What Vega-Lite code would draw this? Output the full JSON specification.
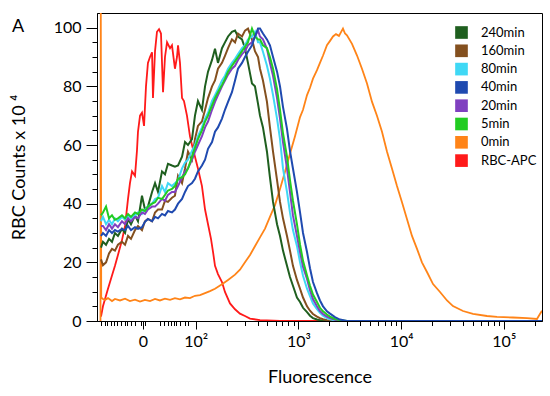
{
"$schema":"https://vega.github.io/schema/vega-lite/v6.json",
"width":445,"height":308,
"autosize":{"type":"none"},
"padding":{"left":97,"top":13,"right":8,"bottom":75},
"background":"white",
"title":{"text":"A","anchor":"start","frame":"group","dx":-85,"dy":37,"offset":0,"baseline":"alphabetic","fontSize":18,"fontWeight":"normal","font":"Lato","color":"black"},
"config":{"view":{"stroke":"black","strokeWidth":1},"font":"Lato"},
"datasets":{"curves":[
{"s":"RBC-APC","x":1.078,"y":1.5},{"s":"RBC-APC","x":1.097,"y":5},{"s":"RBC-APC","x":1.146,"y":11},{"s":"RBC-APC","x":1.185,"y":15.5},{"s":"RBC-APC","x":1.214,"y":18.8},{"s":"RBC-APC","x":1.243,"y":22.5},{"s":"RBC-APC","x":1.282,"y":27.5},{"s":"RBC-APC","x":1.312,"y":32.4},{"s":"RBC-APC","x":1.341,"y":41.6},{"s":"RBC-APC","x":1.36,"y":47},{"s":"RBC-APC","x":1.38,"y":51},{"s":"RBC-APC","x":1.409,"y":49.5},{"s":"RBC-APC","x":1.428,"y":58},{"s":"RBC-APC","x":1.438,"y":64.5},{"s":"RBC-APC","x":1.458,"y":70},{"s":"RBC-APC","x":1.477,"y":71},{"s":"RBC-APC","x":1.497,"y":66.5},{"s":"RBC-APC","x":1.516,"y":80},{"s":"RBC-APC","x":1.535,"y":88},{"s":"RBC-APC","x":1.555,"y":90},{"s":"RBC-APC","x":1.575,"y":91.6},{"s":"RBC-APC","x":1.584,"y":76},{"s":"RBC-APC","x":1.604,"y":92},{"s":"RBC-APC","x":1.623,"y":98.6},{"s":"RBC-APC","x":1.643,"y":99.5},{"s":"RBC-APC","x":1.662,"y":98},{"s":"RBC-APC","x":1.682,"y":78},{"s":"RBC-APC","x":1.701,"y":90},{"s":"RBC-APC","x":1.721,"y":95},{"s":"RBC-APC","x":1.75,"y":93},{"s":"RBC-APC","x":1.769,"y":94},{"s":"RBC-APC","x":1.798,"y":86},{"s":"RBC-APC","x":1.818,"y":90},{"s":"RBC-APC","x":1.828,"y":94},{"s":"RBC-APC","x":1.847,"y":88},{"s":"RBC-APC","x":1.867,"y":76},{"s":"RBC-APC","x":1.886,"y":75},{"s":"RBC-APC","x":1.915,"y":70},{"s":"RBC-APC","x":1.944,"y":63},{"s":"RBC-APC","x":1.964,"y":60},{"s":"RBC-APC","x":1.993,"y":56},{"s":"RBC-APC","x":2.022,"y":52},{"s":"RBC-APC","x":2.061,"y":46},{"s":"RBC-APC","x":2.091,"y":38},{"s":"RBC-APC","x":2.12,"y":33},{"s":"RBC-APC","x":2.149,"y":28},{"s":"RBC-APC","x":2.169,"y":23.5},{"s":"RBC-APC","x":2.188,"y":18.8},{"s":"RBC-APC","x":2.217,"y":16},{"s":"RBC-APC","x":2.256,"y":13.3},{"s":"RBC-APC","x":2.285,"y":9.9},{"s":"RBC-APC","x":2.334,"y":6},{"s":"RBC-APC","x":2.383,"y":4},{"s":"RBC-APC","x":2.431,"y":2.5},{"s":"RBC-APC","x":2.48,"y":1.7},{"s":"RBC-APC","x":2.529,"y":0.8},{"s":"RBC-APC","x":2.626,"y":0.3},{"s":"RBC-APC","x":2.821,"y":0},{"s":"RBC-APC","x":5.372,"y":0},
{"s":"0min","x":1.073,"y":0},{"s":"0min","x":1.076,"y":105},{"s":"0min","x":1.08,"y":8},{"s":"0min","x":1.097,"y":7.5},{"s":"0min","x":1.117,"y":7.2},{"s":"0min","x":1.146,"y":7.8},{"s":"0min","x":1.185,"y":6.8},{"s":"0min","x":1.214,"y":7.5},{"s":"0min","x":1.263,"y":7},{"s":"0min","x":1.312,"y":7.6},{"s":"0min","x":1.36,"y":6.8},{"s":"0min","x":1.409,"y":7.3},{"s":"0min","x":1.458,"y":6.6},{"s":"0min","x":1.506,"y":7.2},{"s":"0min","x":1.555,"y":6.8},{"s":"0min","x":1.604,"y":7.5},{"s":"0min","x":1.652,"y":7},{"s":"0min","x":1.701,"y":7.6},{"s":"0min","x":1.75,"y":7.2},{"s":"0min","x":1.798,"y":7.8},{"s":"0min","x":1.847,"y":7.4},{"s":"0min","x":1.896,"y":8},{"s":"0min","x":1.944,"y":7.8},{"s":"0min","x":1.993,"y":8.6},{"s":"0min","x":2.042,"y":8.8},{"s":"0min","x":2.091,"y":9.5},{"s":"0min","x":2.139,"y":10.2},{"s":"0min","x":2.188,"y":11},{"s":"0min","x":2.256,"y":12.5},{"s":"0min","x":2.315,"y":14},{"s":"0min","x":2.383,"y":15.8},{"s":"0min","x":2.431,"y":17.5},{"s":"0min","x":2.48,"y":20},{"s":"0min","x":2.529,"y":22.5},{"s":"0min","x":2.577,"y":25.5},{"s":"0min","x":2.626,"y":28.5},{"s":"0min","x":2.675,"y":31.5},{"s":"0min","x":2.723,"y":35.5},{"s":"0min","x":2.772,"y":39.5},{"s":"0min","x":2.821,"y":45},{"s":"0min","x":2.869,"y":50.8},{"s":"0min","x":2.918,"y":57},{"s":"0min","x":2.967,"y":63},{"s":"0min","x":3.016,"y":69.5},{"s":"0min","x":3.045,"y":72},{"s":"0min","x":3.084,"y":77},{"s":"0min","x":3.113,"y":79.5},{"s":"0min","x":3.142,"y":82.6},{"s":"0min","x":3.181,"y":85.5},{"s":"0min","x":3.21,"y":88},{"s":"0min","x":3.24,"y":90.5},{"s":"0min","x":3.278,"y":94},{"s":"0min","x":3.308,"y":95.5},{"s":"0min","x":3.337,"y":97},{"s":"0min","x":3.366,"y":97.8},{"s":"0min","x":3.395,"y":97.2},{"s":"0min","x":3.415,"y":98.5},{"s":"0min","x":3.434,"y":99.7},{"s":"0min","x":3.454,"y":98},{"s":"0min","x":3.473,"y":97.4},{"s":"0min","x":3.522,"y":94.5},{"s":"0min","x":3.571,"y":90.5},{"s":"0min","x":3.619,"y":86},{"s":"0min","x":3.668,"y":81},{"s":"0min","x":3.717,"y":74.7},{"s":"0min","x":3.765,"y":70},{"s":"0min","x":3.814,"y":64.5},{"s":"0min","x":3.863,"y":57.7},{"s":"0min","x":3.911,"y":52},{"s":"0min","x":3.96,"y":46},{"s":"0min","x":4.008,"y":40.6},{"s":"0min","x":4.057,"y":34.8},{"s":"0min","x":4.106,"y":29},{"s":"0min","x":4.155,"y":24.6},{"s":"0min","x":4.203,"y":20},{"s":"0min","x":4.252,"y":16.7},{"s":"0min","x":4.311,"y":12.6},{"s":"0min","x":4.379,"y":9.9},{"s":"0min","x":4.447,"y":7},{"s":"0min","x":4.505,"y":5.1},{"s":"0min","x":4.603,"y":3.4},{"s":"0min","x":4.7,"y":2.4},{"s":"0min","x":4.836,"y":1.7},{"s":"0min","x":4.934,"y":1.4},{"s":"0min","x":5.089,"y":1.2},{"s":"0min","x":5.226,"y":1},{"s":"0min","x":5.323,"y":0.7},{"s":"0min","x":5.352,"y":2.4},{"s":"0min","x":5.372,"y":3.5},
{"s":"240min","x":1.078,"y":25},{"s":"240min","x":1.097,"y":27},{"s":"240min","x":1.127,"y":26},{"s":"240min","x":1.156,"y":28},{"s":"240min","x":1.185,"y":27},{"s":"240min","x":1.214,"y":30},{"s":"240min","x":1.243,"y":29},{"s":"240min","x":1.282,"y":31.4},{"s":"240min","x":1.312,"y":30},{"s":"240min","x":1.341,"y":34.8},{"s":"240min","x":1.37,"y":33},{"s":"240min","x":1.409,"y":36},{"s":"240min","x":1.438,"y":34},{"s":"240min","x":1.477,"y":42.7},{"s":"240min","x":1.506,"y":38},{"s":"240min","x":1.535,"y":39},{"s":"240min","x":1.575,"y":44},{"s":"240min","x":1.604,"y":47},{"s":"240min","x":1.633,"y":44},{"s":"240min","x":1.672,"y":51},{"s":"240min","x":1.701,"y":50},{"s":"240min","x":1.73,"y":53.6},{"s":"240min","x":1.769,"y":53},{"s":"240min","x":1.798,"y":52.6},{"s":"240min","x":1.828,"y":53},{"s":"240min","x":1.867,"y":56},{"s":"240min","x":1.896,"y":61},{"s":"240min","x":1.925,"y":60},{"s":"240min","x":1.964,"y":62},{"s":"240min","x":1.993,"y":70},{"s":"240min","x":2.022,"y":75},{"s":"240min","x":2.061,"y":72},{"s":"240min","x":2.091,"y":80},{"s":"240min","x":2.12,"y":85},{"s":"240min","x":2.159,"y":89},{"s":"240min","x":2.188,"y":92.8},{"s":"240min","x":2.217,"y":88},{"s":"240min","x":2.256,"y":93},{"s":"240min","x":2.285,"y":95},{"s":"240min","x":2.315,"y":97},{"s":"240min","x":2.353,"y":98.6},{"s":"240min","x":2.383,"y":99},{"s":"240min","x":2.412,"y":97},{"s":"240min","x":2.451,"y":96},{"s":"240min","x":2.48,"y":93},{"s":"240min","x":2.509,"y":88},{"s":"240min","x":2.548,"y":81},{"s":"240min","x":2.577,"y":80},{"s":"240min","x":2.607,"y":74},{"s":"240min","x":2.626,"y":70},{"s":"240min","x":2.655,"y":66},{"s":"240min","x":2.694,"y":57.7},{"s":"240min","x":2.723,"y":49},{"s":"240min","x":2.753,"y":40.6},{"s":"240min","x":2.792,"y":33},{"s":"240min","x":2.821,"y":29},{"s":"240min","x":2.85,"y":24},{"s":"240min","x":2.889,"y":18.8},{"s":"240min","x":2.918,"y":15},{"s":"240min","x":2.947,"y":12},{"s":"240min","x":2.986,"y":8},{"s":"240min","x":3.016,"y":6.5},{"s":"240min","x":3.045,"y":4.5},{"s":"240min","x":3.084,"y":3},{"s":"240min","x":3.113,"y":1.8},{"s":"240min","x":3.142,"y":1},{"s":"240min","x":3.181,"y":0.5},{"s":"240min","x":3.21,"y":0.3},{"s":"240min","x":3.24,"y":0.1},{"s":"240min","x":3.278,"y":0},{"s":"240min","x":5.372,"y":0},
{"s":"160min","x":1.078,"y":21},{"s":"160min","x":1.097,"y":19},{"s":"160min","x":1.127,"y":20},{"s":"160min","x":1.156,"y":23},{"s":"160min","x":1.185,"y":24.6},{"s":"160min","x":1.214,"y":24},{"s":"160min","x":1.243,"y":26},{"s":"160min","x":1.282,"y":27},{"s":"160min","x":1.312,"y":26},{"s":"160min","x":1.341,"y":29},{"s":"160min","x":1.37,"y":28},{"s":"160min","x":1.409,"y":31},{"s":"160min","x":1.438,"y":32.4},{"s":"160min","x":1.477,"y":31},{"s":"160min","x":1.506,"y":34},{"s":"160min","x":1.535,"y":34.8},{"s":"160min","x":1.575,"y":34},{"s":"160min","x":1.604,"y":37},{"s":"160min","x":1.633,"y":38},{"s":"160min","x":1.672,"y":38},{"s":"160min","x":1.701,"y":41},{"s":"160min","x":1.73,"y":40.6},{"s":"160min","x":1.769,"y":42},{"s":"160min","x":1.798,"y":42.7},{"s":"160min","x":1.828,"y":49.5},{"s":"160min","x":1.867,"y":47},{"s":"160min","x":1.896,"y":52},{"s":"160min","x":1.925,"y":57.7},{"s":"160min","x":1.964,"y":55},{"s":"160min","x":1.993,"y":62},{"s":"160min","x":2.022,"y":66.5},{"s":"160min","x":2.061,"y":68},{"s":"160min","x":2.091,"y":72},{"s":"160min","x":2.12,"y":76},{"s":"160min","x":2.159,"y":80},{"s":"160min","x":2.188,"y":82},{"s":"160min","x":2.217,"y":86},{"s":"160min","x":2.256,"y":88},{"s":"160min","x":2.285,"y":90.4},{"s":"160min","x":2.315,"y":93},{"s":"160min","x":2.353,"y":96},{"s":"160min","x":2.383,"y":95},{"s":"160min","x":2.412,"y":98},{"s":"160min","x":2.451,"y":97},{"s":"160min","x":2.48,"y":99},{"s":"160min","x":2.509,"y":99.7},{"s":"160min","x":2.548,"y":96},{"s":"160min","x":2.577,"y":92},{"s":"160min","x":2.607,"y":90},{"s":"160min","x":2.626,"y":86},{"s":"160min","x":2.655,"y":82},{"s":"160min","x":2.694,"y":74.7},{"s":"160min","x":2.723,"y":66},{"s":"160min","x":2.753,"y":57.7},{"s":"160min","x":2.792,"y":48},{"s":"160min","x":2.821,"y":40.6},{"s":"160min","x":2.85,"y":35},{"s":"160min","x":2.889,"y":29},{"s":"160min","x":2.918,"y":24},{"s":"160min","x":2.947,"y":18.8},{"s":"160min","x":2.986,"y":14},{"s":"160min","x":3.016,"y":11},{"s":"160min","x":3.045,"y":8},{"s":"160min","x":3.084,"y":5},{"s":"160min","x":3.113,"y":3.5},{"s":"160min","x":3.142,"y":2.4},{"s":"160min","x":3.181,"y":1.5},{"s":"160min","x":3.21,"y":1},{"s":"160min","x":3.24,"y":0.6},{"s":"160min","x":3.278,"y":0.3},{"s":"160min","x":3.308,"y":0.1},{"s":"160min","x":3.356,"y":0},{"s":"160min","x":5.372,"y":0},
{"s":"80min","x":1.078,"y":34},{"s":"80min","x":1.097,"y":35.5},{"s":"80min","x":1.127,"y":33},{"s":"80min","x":1.156,"y":34.5},{"s":"80min","x":1.185,"y":33},{"s":"80min","x":1.214,"y":35},{"s":"80min","x":1.243,"y":34},{"s":"80min","x":1.282,"y":35.5},{"s":"80min","x":1.312,"y":34.5},{"s":"80min","x":1.341,"y":36},{"s":"80min","x":1.37,"y":35},{"s":"80min","x":1.409,"y":36},{"s":"80min","x":1.438,"y":37},{"s":"80min","x":1.477,"y":36.5},{"s":"80min","x":1.506,"y":38},{"s":"80min","x":1.535,"y":39},{"s":"80min","x":1.575,"y":40},{"s":"80min","x":1.604,"y":41.6},{"s":"80min","x":1.633,"y":42},{"s":"80min","x":1.672,"y":46},{"s":"80min","x":1.701,"y":44},{"s":"80min","x":1.73,"y":47},{"s":"80min","x":1.769,"y":46},{"s":"80min","x":1.798,"y":47},{"s":"80min","x":1.828,"y":48},{"s":"80min","x":1.867,"y":52},{"s":"80min","x":1.896,"y":54},{"s":"80min","x":1.925,"y":55},{"s":"80min","x":1.964,"y":58},{"s":"80min","x":1.993,"y":60},{"s":"80min","x":2.022,"y":63},{"s":"80min","x":2.061,"y":66},{"s":"80min","x":2.091,"y":69},{"s":"80min","x":2.12,"y":71},{"s":"80min","x":2.159,"y":75},{"s":"80min","x":2.188,"y":77},{"s":"80min","x":2.217,"y":79},{"s":"80min","x":2.256,"y":82},{"s":"80min","x":2.285,"y":83.6},{"s":"80min","x":2.315,"y":86},{"s":"80min","x":2.353,"y":88},{"s":"80min","x":2.383,"y":89.4},{"s":"80min","x":2.412,"y":91},{"s":"80min","x":2.451,"y":93},{"s":"80min","x":2.48,"y":94},{"s":"80min","x":2.509,"y":96},{"s":"80min","x":2.548,"y":97},{"s":"80min","x":2.577,"y":98.6},{"s":"80min","x":2.607,"y":95},{"s":"80min","x":2.626,"y":95},{"s":"80min","x":2.655,"y":91.8},{"s":"80min","x":2.694,"y":87},{"s":"80min","x":2.723,"y":82.6},{"s":"80min","x":2.753,"y":77},{"s":"80min","x":2.792,"y":69},{"s":"80min","x":2.821,"y":62},{"s":"80min","x":2.85,"y":52},{"s":"80min","x":2.889,"y":44},{"s":"80min","x":2.918,"y":37},{"s":"80min","x":2.947,"y":31},{"s":"80min","x":2.986,"y":25.6},{"s":"80min","x":3.016,"y":20},{"s":"80min","x":3.045,"y":15.4},{"s":"80min","x":3.084,"y":11},{"s":"80min","x":3.113,"y":8.5},{"s":"80min","x":3.142,"y":6},{"s":"80min","x":3.181,"y":4},{"s":"80min","x":3.21,"y":2.8},{"s":"80min","x":3.24,"y":1.8},{"s":"80min","x":3.278,"y":1},{"s":"80min","x":3.308,"y":0.6},{"s":"80min","x":3.356,"y":0.2},{"s":"80min","x":3.405,"y":0},{"s":"80min","x":5.372,"y":0},
{"s":"20min","x":1.078,"y":32.4},{"s":"20min","x":1.097,"y":32.4},{"s":"20min","x":1.127,"y":31},{"s":"20min","x":1.156,"y":33},{"s":"20min","x":1.185,"y":31.5},{"s":"20min","x":1.214,"y":33},{"s":"20min","x":1.243,"y":32},{"s":"20min","x":1.282,"y":34},{"s":"20min","x":1.312,"y":33},{"s":"20min","x":1.341,"y":35},{"s":"20min","x":1.37,"y":34},{"s":"20min","x":1.409,"y":35.5},{"s":"20min","x":1.438,"y":35},{"s":"20min","x":1.477,"y":37},{"s":"20min","x":1.506,"y":36.5},{"s":"20min","x":1.535,"y":38},{"s":"20min","x":1.575,"y":39},{"s":"20min","x":1.604,"y":39},{"s":"20min","x":1.633,"y":40},{"s":"20min","x":1.672,"y":41.6},{"s":"20min","x":1.701,"y":41},{"s":"20min","x":1.73,"y":43},{"s":"20min","x":1.769,"y":44},{"s":"20min","x":1.798,"y":44},{"s":"20min","x":1.828,"y":46},{"s":"20min","x":1.867,"y":49},{"s":"20min","x":1.896,"y":51},{"s":"20min","x":1.925,"y":52},{"s":"20min","x":1.964,"y":55},{"s":"20min","x":1.993,"y":57.7},{"s":"20min","x":2.022,"y":60},{"s":"20min","x":2.061,"y":63},{"s":"20min","x":2.091,"y":66},{"s":"20min","x":2.12,"y":68},{"s":"20min","x":2.159,"y":72},{"s":"20min","x":2.188,"y":74.7},{"s":"20min","x":2.217,"y":77},{"s":"20min","x":2.256,"y":80},{"s":"20min","x":2.285,"y":82},{"s":"20min","x":2.315,"y":84},{"s":"20min","x":2.353,"y":86},{"s":"20min","x":2.383,"y":87},{"s":"20min","x":2.412,"y":89},{"s":"20min","x":2.451,"y":91},{"s":"20min","x":2.48,"y":92},{"s":"20min","x":2.509,"y":94},{"s":"20min","x":2.548,"y":95},{"s":"20min","x":2.577,"y":97},{"s":"20min","x":2.607,"y":99},{"s":"20min","x":2.626,"y":97},{"s":"20min","x":2.655,"y":96},{"s":"20min","x":2.694,"y":92.8},{"s":"20min","x":2.723,"y":88},{"s":"20min","x":2.753,"y":83.6},{"s":"20min","x":2.792,"y":76},{"s":"20min","x":2.821,"y":69},{"s":"20min","x":2.85,"y":61},{"s":"20min","x":2.889,"y":52},{"s":"20min","x":2.918,"y":44},{"s":"20min","x":2.947,"y":36},{"s":"20min","x":2.986,"y":29},{"s":"20min","x":3.016,"y":23.5},{"s":"20min","x":3.045,"y":18.5},{"s":"20min","x":3.084,"y":14.3},{"s":"20min","x":3.113,"y":10.5},{"s":"20min","x":3.142,"y":7.5},{"s":"20min","x":3.181,"y":5},{"s":"20min","x":3.21,"y":3.4},{"s":"20min","x":3.24,"y":2.4},{"s":"20min","x":3.278,"y":1.5},{"s":"20min","x":3.308,"y":1},{"s":"20min","x":3.356,"y":0.4},{"s":"20min","x":3.405,"y":0.1},{"s":"20min","x":3.473,"y":0},{"s":"20min","x":5.372,"y":0},
{"s":"5min","x":1.078,"y":36},{"s":"5min","x":1.097,"y":37},{"s":"5min","x":1.127,"y":39},{"s":"5min","x":1.156,"y":35},{"s":"5min","x":1.185,"y":36},{"s":"5min","x":1.214,"y":34.5},{"s":"5min","x":1.243,"y":35},{"s":"5min","x":1.282,"y":36},{"s":"5min","x":1.312,"y":35},{"s":"5min","x":1.341,"y":36.5},{"s":"5min","x":1.37,"y":35.5},{"s":"5min","x":1.409,"y":37},{"s":"5min","x":1.438,"y":36.5},{"s":"5min","x":1.477,"y":38},{"s":"5min","x":1.506,"y":37.5},{"s":"5min","x":1.535,"y":39},{"s":"5min","x":1.575,"y":40},{"s":"5min","x":1.604,"y":40.5},{"s":"5min","x":1.633,"y":42},{"s":"5min","x":1.672,"y":41.6},{"s":"5min","x":1.701,"y":43},{"s":"5min","x":1.73,"y":44.5},{"s":"5min","x":1.769,"y":45},{"s":"5min","x":1.798,"y":46},{"s":"5min","x":1.828,"y":48.5},{"s":"5min","x":1.867,"y":49},{"s":"5min","x":1.896,"y":50},{"s":"5min","x":1.925,"y":52},{"s":"5min","x":1.964,"y":56},{"s":"5min","x":1.993,"y":59},{"s":"5min","x":2.022,"y":62},{"s":"5min","x":2.061,"y":65},{"s":"5min","x":2.091,"y":68},{"s":"5min","x":2.12,"y":70},{"s":"5min","x":2.159,"y":73.5},{"s":"5min","x":2.188,"y":76},{"s":"5min","x":2.217,"y":78},{"s":"5min","x":2.256,"y":80.5},{"s":"5min","x":2.285,"y":82.5},{"s":"5min","x":2.315,"y":85},{"s":"5min","x":2.353,"y":87},{"s":"5min","x":2.383,"y":88.5},{"s":"5min","x":2.412,"y":90},{"s":"5min","x":2.451,"y":92},{"s":"5min","x":2.48,"y":93.5},{"s":"5min","x":2.509,"y":95},{"s":"5min","x":2.548,"y":99.7},{"s":"5min","x":2.577,"y":97},{"s":"5min","x":2.607,"y":96},{"s":"5min","x":2.626,"y":96},{"s":"5min","x":2.655,"y":94},{"s":"5min","x":2.694,"y":93},{"s":"5min","x":2.723,"y":90},{"s":"5min","x":2.753,"y":86},{"s":"5min","x":2.792,"y":79},{"s":"5min","x":2.821,"y":72},{"s":"5min","x":2.85,"y":64},{"s":"5min","x":2.889,"y":56},{"s":"5min","x":2.918,"y":48},{"s":"5min","x":2.947,"y":41},{"s":"5min","x":2.986,"y":33},{"s":"5min","x":3.016,"y":26},{"s":"5min","x":3.045,"y":20.5},{"s":"5min","x":3.084,"y":15.5},{"s":"5min","x":3.113,"y":12},{"s":"5min","x":3.142,"y":9},{"s":"5min","x":3.181,"y":6.5},{"s":"5min","x":3.21,"y":4.5},{"s":"5min","x":3.24,"y":3.3},{"s":"5min","x":3.278,"y":2.2},{"s":"5min","x":3.308,"y":1.5},{"s":"5min","x":3.356,"y":0.7},{"s":"5min","x":3.405,"y":0.3},{"s":"5min","x":3.473,"y":0},{"s":"5min","x":5.372,"y":0},
{"s":"40min","x":1.078,"y":29},{"s":"40min","x":1.097,"y":30},{"s":"40min","x":1.127,"y":29},{"s":"40min","x":1.156,"y":31},{"s":"40min","x":1.185,"y":30},{"s":"40min","x":1.214,"y":31},{"s":"40min","x":1.243,"y":30.5},{"s":"40min","x":1.282,"y":31.4},{"s":"40min","x":1.312,"y":31},{"s":"40min","x":1.341,"y":32.4},{"s":"40min","x":1.37,"y":31},{"s":"40min","x":1.409,"y":32},{"s":"40min","x":1.438,"y":31.4},{"s":"40min","x":1.477,"y":32},{"s":"40min","x":1.506,"y":33.8},{"s":"40min","x":1.535,"y":34.8},{"s":"40min","x":1.575,"y":34},{"s":"40min","x":1.604,"y":35.5},{"s":"40min","x":1.633,"y":35},{"s":"40min","x":1.672,"y":36.5},{"s":"40min","x":1.701,"y":36},{"s":"40min","x":1.73,"y":37.5},{"s":"40min","x":1.769,"y":37},{"s":"40min","x":1.798,"y":38},{"s":"40min","x":1.828,"y":40},{"s":"40min","x":1.867,"y":41.6},{"s":"40min","x":1.896,"y":44},{"s":"40min","x":1.925,"y":46},{"s":"40min","x":1.964,"y":47},{"s":"40min","x":1.993,"y":48.5},{"s":"40min","x":2.022,"y":51},{"s":"40min","x":2.061,"y":53},{"s":"40min","x":2.091,"y":55},{"s":"40min","x":2.12,"y":58.7},{"s":"40min","x":2.159,"y":61},{"s":"40min","x":2.188,"y":64.5},{"s":"40min","x":2.217,"y":66},{"s":"40min","x":2.256,"y":69},{"s":"40min","x":2.285,"y":72},{"s":"40min","x":2.315,"y":74.7},{"s":"40min","x":2.353,"y":78},{"s":"40min","x":2.383,"y":82},{"s":"40min","x":2.412,"y":86},{"s":"40min","x":2.451,"y":88},{"s":"40min","x":2.48,"y":90},{"s":"40min","x":2.509,"y":91.8},{"s":"40min","x":2.548,"y":94},{"s":"40min","x":2.577,"y":97},{"s":"40min","x":2.607,"y":99.7},{"s":"40min","x":2.626,"y":99.7},{"s":"40min","x":2.655,"y":98},{"s":"40min","x":2.694,"y":96},{"s":"40min","x":2.723,"y":94},{"s":"40min","x":2.753,"y":90},{"s":"40min","x":2.792,"y":85},{"s":"40min","x":2.821,"y":80},{"s":"40min","x":2.85,"y":73},{"s":"40min","x":2.889,"y":65.5},{"s":"40min","x":2.918,"y":58},{"s":"40min","x":2.947,"y":52},{"s":"40min","x":2.986,"y":44},{"s":"40min","x":3.016,"y":37},{"s":"40min","x":3.045,"y":30},{"s":"40min","x":3.084,"y":23.5},{"s":"40min","x":3.113,"y":18},{"s":"40min","x":3.142,"y":13.3},{"s":"40min","x":3.181,"y":9.5},{"s":"40min","x":3.21,"y":7},{"s":"40min","x":3.24,"y":5},{"s":"40min","x":3.278,"y":3.3},{"s":"40min","x":3.308,"y":2.5},{"s":"40min","x":3.356,"y":1.3},{"s":"40min","x":3.405,"y":0.5},{"s":"40min","x":3.473,"y":0},{"s":"40min","x":5.372,"y":0}
]},
"data":{"name":"curves"},
"encoding":{
 "color":{"field":"s","type":"nominal",
  "scale":{"domain":["240min","160min","80min","40min","20min","5min","0min","RBC-APC"],
           "range":["#1f5f1f","#84501f","#3fd8f5","#1f4ab0","#8040c0","#22cc22","#ff8418","#ff1a1a"]},
  "legend":{"orient":"none","legendX":358,"legendY":13,"title":null,"symbolType":"square","symbolSize":160,"labelFontSize":13,"labelFont":"Lato","labelColor":"black","rowPadding":4.3,"labelOffset":13,
   "encode":{"symbols":{"update":{"fill":{"scale":"color","field":"value"},"strokeWidth":{"value":0},"opacity":{"value":1}}}}}}
},
"layer":[
 {"transform":[{"filter":{"field":"s","oneOf":["RBC-APC","0min"]}}],
  "mark":{"type":"line","strokeWidth":1.8,"clip":true},
  "encoding":{
   "x":{"field":"x","type":"quantitative","scale":{"domain":[1.039,5.372],"nice":false,"zero":false},
     "axis":{"orient":"bottom","values":[1.487,2,3,4,5],"labelExpr":"datum.value < 1.8 ? '0' : datum.value < 2.5 ? '10²' : datum.value < 3.5 ? '10³' : datum.value < 4.5 ? '10⁴' : '10⁵'","tickSize":8,"labelFontSize":16,"labelPadding":4,"labelFont":"Lato","labelColor":"black","labelFlush":false,"labelOverlap":false,"grid":false,"domainColor":"black","tickColor":"black","title":"Fluorescence","titleFontSize":18,"titleFontWeight":"normal","titleFont":"Lato","titleColor":"black","titlePadding":19}},
   "y":{"field":"y","type":"quantitative","scale":{"domain":[0,105],"nice":false},
     "axis":{"orient":"left","values":[0,20,40,60,80,100],"tickSize":11,"labelFontSize":16,"labelPadding":5,"labelFont":"Lato","labelColor":"black","grid":false,"domainColor":"black","tickColor":"black","title":"RBC Counts x 10 ⁴","titleFontSize":18,"titleFontWeight":"normal","titleFont":"Lato","titleColor":"black","titlePadding":25}}
  }},
 {"transform":[{"filter":{"field":"s","oneOf":["240min","160min","80min","40min","20min","5min"]}}],
  "mark":{"type":"line","strokeWidth":2,"clip":true},
  "encoding":{
   "x":{"field":"x","type":"quantitative","scale":{"domain":[1.039,5.372],"nice":false,"zero":false},
     "axis":{"orient":"bottom","values":[1.078,1.117,1.136,1.175,1.204,1.234,1.273,1.311,1.331,1.37,1.409,1.467,1.506,1.652,1.691,1.73,1.759,1.789,1.808,1.847,1.896,1.925,2.301,2.477,2.602,2.699,2.778,2.845,2.903,2.954,3.301,3.477,3.602,3.699,3.778,3.845,3.903,3.954,4.301,4.477,4.602,4.699,4.778,4.845,4.903,4.954,5.301],"tickSize":4.5,"labels":false,"domain":false,"grid":false,"tickColor":"black","title":null}},
   "y":{"field":"y","type":"quantitative","scale":{"domain":[0,105],"nice":false},
     "axis":{"orient":"left","values":[5,10,15,25,30,35,45,50,55,65,70,75,85,90,95],"tickSize":5,"labels":false,"domain":false,"grid":false,"tickColor":"black","title":null}}
  }}
],
"resolve":{"axis":{"x":"independent","y":"independent"}}
}
